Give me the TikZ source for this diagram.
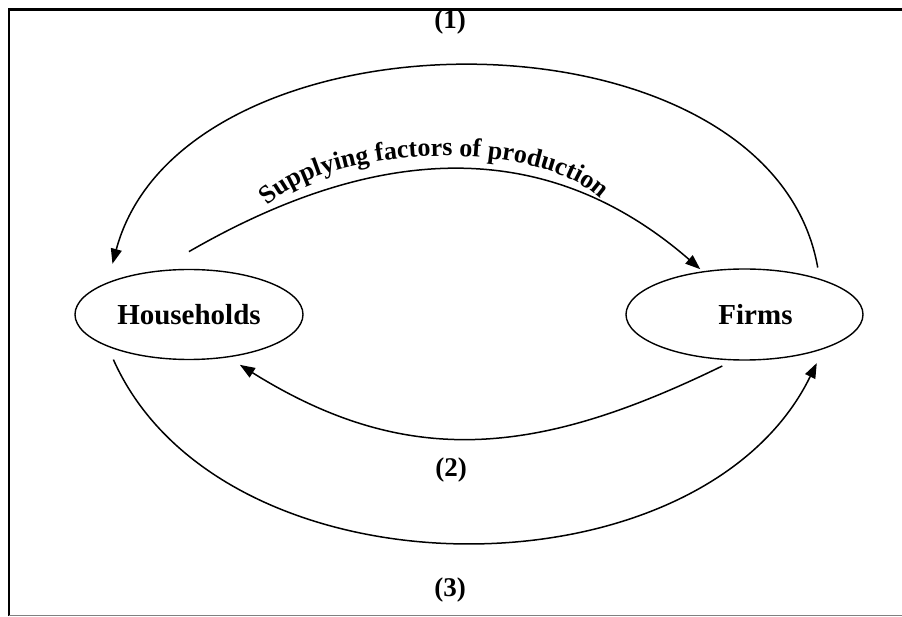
\documentclass[tikz,border=0pt]{standalone}
\usepackage{fontspec}
\setmainfont{Liberation Serif}
\usetikzlibrary{arrows.meta,shapes.geometric,decorations.text}

\begin{document}
\begin{tikzpicture}[x=1pt, y=-1pt,
  sector/.style={draw, ellipse, line width=1.4pt, inner sep=0pt, outer sep=0pt,
    font=\bfseries\fontsize{29}{29}\selectfont},
  flow/.style={line width=1.5pt, -{Triangle[length=15pt, width=11pt]}},
  lab/.style={font=\bfseries\fontsize{27}{27}\selectfont, inner sep=1pt}]
  \useasboundingbox (0,0) rectangle (902,617);
  \draw[line width=2.6pt] (9,616) -- (9,9.5) -- (902,9.5);
  \draw[gray, line width=1pt] (9,615.6) -- (902,615.6);
  \node[sector, minimum width=228pt, minimum height=90pt] (hh) at (189,314.5) {Households};
  \node[sector, minimum width=237pt, minimum height=91pt] (firms) at (744.5,314.5)
    {\hspace*{22pt}Firms};
  \draw[flow, shorten <=12pt, shorten >=20pt] (firms.25)
    to[out=100, in=75, out distance=285pt, in distance=293pt] (hh.159);
  \draw[flow, shorten <=40pt, shorten >=4pt] (hh.129)
    to[out=30, in=139, out distance=250pt, in distance=214pt] (firms.134);
  \draw[flow, shorten <=14pt, shorten >=15pt] (firms.258)
    to[out=206, in=328, out distance=215pt, in distance=216pt] (hh.312);
  \draw[flow, shorten <=15pt, shorten >=16.5pt] (hh.201)
    to[out=294, in=244, out distance=281pt, in distance=283pt] (firms.337);
  \path[decorate, decoration={text along path, text align=center,
      text={|\bfseries\fontsize{26}{26}\selectfont|Supplying factors of production}}]
    (260,214) to[out=52, in=128, distance=92pt] (608,207);
  \node[lab] (n1) at (450,22) {(1)};
  \node[lab] (n2) at (451,470) {(2)};
  \node[lab] (n3) at (450,590) {(3)};
\end{tikzpicture}
\end{document}
